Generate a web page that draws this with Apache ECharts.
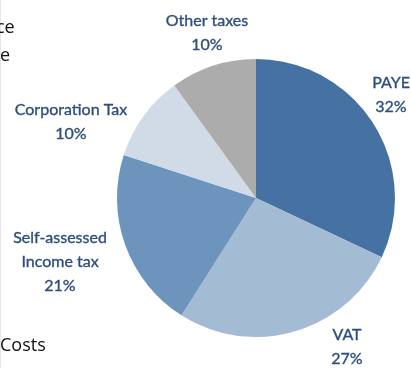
<!DOCTYPE html>
<html>
<head>
<meta charset="utf-8">
<script src="https://cdn.jsdelivr.net/npm/echarts@6/dist/echarts.min.js"></script>
<style>
  html, body { margin: 0; padding: 0; background: #fff; }
  #chart { width: 411px; height: 368px; }
</style>
</head>
<body>
<div id="chart"></div>
<script>
// Share of tax receipts by type (%)
const categories = ['PAYE', 'VAT', 'Self-assessed\nIncome tax', 'Corporation Tax', 'Other taxes'];
const shares = [32, 27, 21, 10, 10];
const sliceColors = ['#4572a2', '#a4bbd4', '#6d94bc', '#d0dbe7', '#acacad'];

// Where each slice's caption sits around the pie
const labelSpots = {
  'PAYE': [391, 95],
  'VAT': [347, 347],
  'Self-assessed\nIncome tax': [60, 262],
  'Corporation Tax': [71, 122],
  'Other taxes': [207, 33]
};

const chart = echarts.init(document.getElementById('chart'), null, { renderer: 'canvas' });

chart.setOption({
  animation: false,
  backgroundColor: '#ffffff',
  graphic: [
    { type: 'line', shape: { x1: 0.5, y1: 0, x2: 0.5, y2: 368 }, style: { stroke: '#e6e6e6', lineWidth: 1 } },
    { type: 'text', left: -4, top: 19, style: { text: 'ce', font: '18px "Open Sans", sans-serif', fill: '#111' } },
    { type: 'text', left: 0, top: 47, style: { text: 'e', font: '18px "Open Sans", sans-serif', fill: '#111' } },
    { type: 'text', left: 0, top: 337, style: { text: 'Costs', font: '18px "Open Sans", sans-serif', fill: '#111' } }
  ],
  series: [{
    type: 'pie',
    center: [256, 198],
    radius: 139,
    startAngle: 90,
    clockwise: true,
    silent: true,
    avoidLabelOverlap: false,
    data: categories.map((name, i) => ({
      name: name,
      value: shares[i],
      itemStyle: { color: sliceColors[i] }
    })),
    itemStyle: { borderWidth: 0 },
    label: {
      show: true,
      position: 'inside',
      formatter: '{b}\n{c}%',
      color: '#2d4d7a',
      fontFamily: 'Lato, sans-serif',
      fontSize: 16,
      lineHeight: 24,
      align: 'center',
      overflow: 'none',
      textBorderColor: '#2d4d7a',
      textBorderWidth: 0.35
    },
    labelLine: { show: false },
    labelLayout: function (params) {
      const name = categories[params.dataIndex];
      const p = labelSpots[name];
      return { x: p[0], y: p[1], align: 'center', verticalAlign: 'middle', hideOverlap: false };
    }
  }]
});
</script>
</body>
</html>
